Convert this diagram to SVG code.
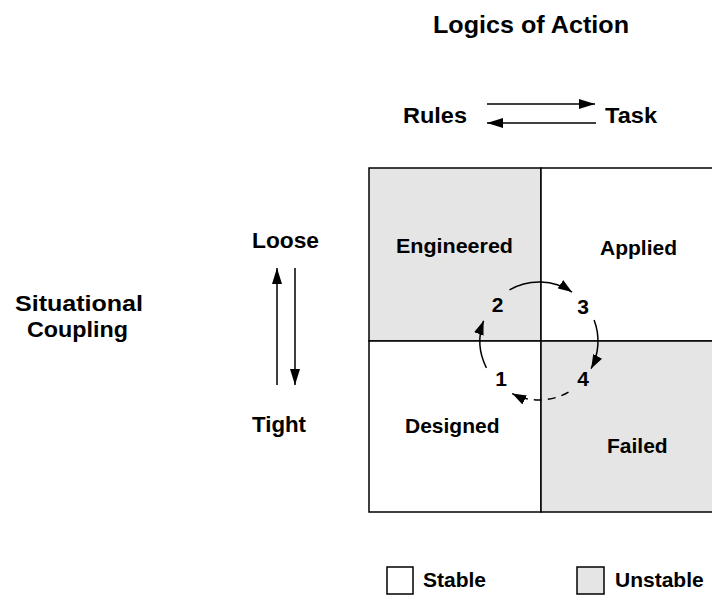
<svg xmlns="http://www.w3.org/2000/svg" width="712" height="600" viewBox="0 0 712 600">
<style>
text{font-family:"Liberation Sans",Arial,Helvetica,sans-serif;font-weight:bold;fill:#000;font-size:21px}
.big{font-size:24px}
.mid{font-size:22px}
.ln{stroke:#000;stroke-width:1.5;fill:none}
.cell{stroke:#000;stroke-width:1.5}
.grey{fill:#e5e5e5}
.white{fill:#fff}
</style>
<defs>
<marker id="ah" markerUnits="userSpaceOnUse" markerWidth="16" markerHeight="10" refX="16" refY="5" orient="auto">
<path d="M0,0 L16,5 L0,10 z" fill="#000"/>
</marker>
<marker id="ahs" markerUnits="userSpaceOnUse" markerWidth="14" markerHeight="10" refX="14" refY="5" orient="auto">
<path d="M0,0 L14,5 L0,10 z" fill="#000"/>
</marker>
</defs>
<rect width="712" height="600" fill="#fff"/>
<g id="title"><text class="big" x="433" y="33" textLength="196" lengthAdjust="spacingAndGlyphs">Logics of Action</text></g>
<g id="rules"><text class="mid" x="403" y="123" textLength="64" lengthAdjust="spacingAndGlyphs">Rules</text></g>
<g id="task"><text class="mid" x="605" y="123" textLength="52" lengthAdjust="spacingAndGlyphs">Task</text></g>
<g id="loose"><text class="mid" x="252" y="248" textLength="67" lengthAdjust="spacingAndGlyphs">Loose</text></g>
<g id="tight"><text class="mid" x="252" y="432" textLength="54" lengthAdjust="spacingAndGlyphs">Tight</text></g>
<g id="situational"><text class="mid" x="15" y="311" textLength="128" lengthAdjust="spacingAndGlyphs">Situational</text><text class="mid" x="27" y="337" textLength="101" lengthAdjust="spacingAndGlyphs">Coupling</text></g>
<g id="engineered"><rect class="cell grey" x="369" y="168" width="172" height="173"/><text x="396" y="253" textLength="117" lengthAdjust="spacingAndGlyphs">Engineered</text></g>
<g id="applied"><rect class="cell white" x="541" y="168" width="172" height="173"/><text x="600" y="255">Applied</text></g>
<g id="designed"><rect class="cell white" x="369" y="341" width="172" height="171"/><text x="405" y="433">Designed</text></g>
<g id="failed"><rect class="cell grey" x="541" y="341" width="172" height="171"/><text x="607" y="453">Failed</text></g>
<g id="connectors">
<line class="ln" x1="487" y1="104" x2="595" y2="104" marker-end="url(#ah)"/>
<line class="ln" x1="596" y1="123" x2="487" y2="123" marker-end="url(#ah)"/>
<line class="ln" x1="277" y1="385" x2="277" y2="268" marker-end="url(#ah)"/>
<line class="ln" x1="295" y1="268" x2="295" y2="385" marker-end="url(#ah)"/>
<path class="ln" d="M509.5,289.9 A59,59 0 0 1 572,292.1" marker-end="url(#ahs)"/>
<path class="ln" d="M594.1,319.9 A59,59 0 0 1 591.1,368.7" marker-end="url(#ahs)"/>
<path class="ln" d="M568.5,392.1 A59,59 0 0 1 512.2,393.6" stroke-dasharray="8 6" marker-end="url(#ahs)"/>
<path class="ln" d="M486.4,367.8 A59,59 0 0 1 483.6,320.8" marker-end="url(#ahs)"/>
</g>
<g id="step2"><text x="497.5" y="312" text-anchor="middle">2</text></g>
<g id="step3"><text x="583" y="314" text-anchor="middle">3</text></g>
<g id="step1"><text x="501" y="386" text-anchor="middle">1</text></g>
<g id="step4"><text x="583" y="386" text-anchor="middle">4</text></g>
<g id="legend-stable"><rect class="cell white" x="387" y="567" width="26" height="27"/><text x="423" y="587">Stable</text></g>
<g id="legend-unstable"><rect class="cell grey" x="577" y="567" width="27" height="27"/><text x="615" y="587">Unstable</text></g>
</svg>
